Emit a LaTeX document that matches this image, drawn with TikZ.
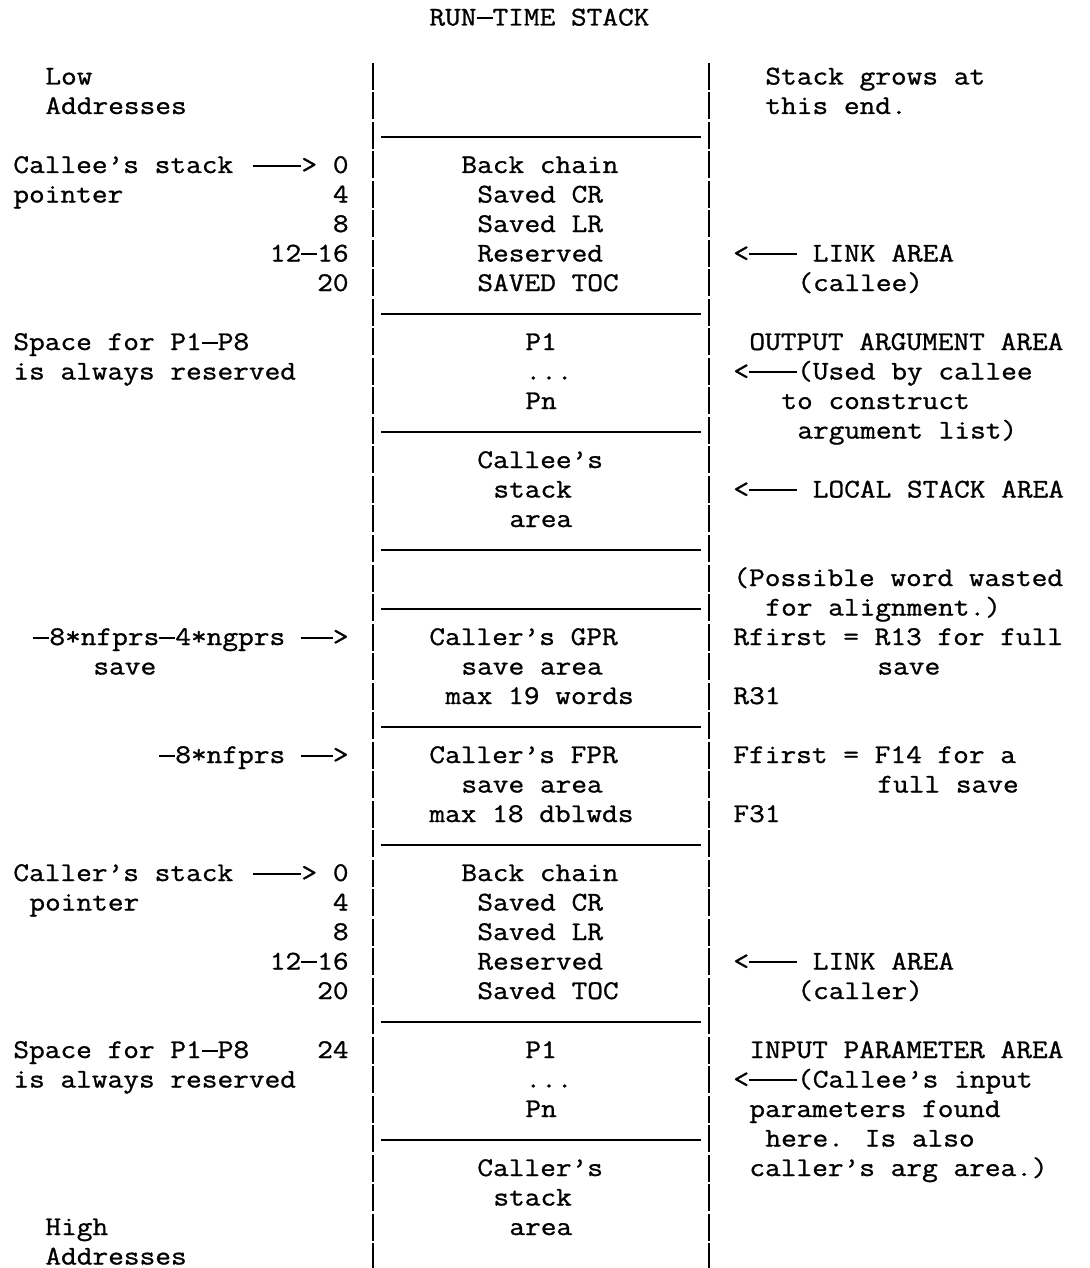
\documentclass[tikz,border=0pt]{standalone}
\usepackage{fontspec}
\newfontfamily\stackfont[FakeStretch=1.129,FakeBold=1.0]{Latin Modern Mono}
\newcommand\stackrule{\rule[3.2pt]{8pt}{0.9pt}}

\begin{document}
\begin{tikzpicture}[x=8pt,y=-14.75pt]

\tikzset{cell/.style={font=\stackfont\fontsize{13.5pt}{14pt}\selectfont,inner sep=0pt,anchor=base west},
num/.style={cell,anchor=base east},
wall/.style={line width=0.8pt,dash pattern=on 13.5pt off 1.25pt},
rule/.style={line width=1.1pt}}

% Page
\useasboundingbox (-0.8125,-0.8644) rectangle (67.25,42.1186);

% Title
\node[cell] (title) at (26,0) {RUN\stackrule TIME STACK};

% Stack walls
\coordinate (lwTop) at (22.5,1.271); \coordinate (lwBot) at (22.5,42.12);
\coordinate (rwTop) at (43.5,1.271); \coordinate (rwBot) at (43.5,42.12);
\draw[wall] (lwTop) -- (lwBot);
\draw[wall] (rwTop) -- (rwBot);

% Frame boundaries
\foreach \r [count=\i] in {4,10,14,18,20,24,28,34,38}
  {\coordinate (ruleL\i) at (23,\r-0.22); \coordinate (ruleR\i) at (43,\r-0.22);
   \draw[rule] (ruleL\i) -- (ruleR\i);}

% Left side: addresses and offsets
\node[cell] (lowA) at (2,2) {Low};
\node[cell] (lowB) at (2,3) {Addresses};
\node[cell] (calleeSP) at (0,5) {Callee’s stack};
\node[cell] (calleeArr) at (15,5) {\stackrule\stackrule\stackrule>};
\node[num] (calleeOff0) at (21,5) {0};
\node[cell] (calleeSPb) at (0,6) {pointer};
\node[num] (calleeOff4) at (21,6) {4};
\node[num] (calleeOff8) at (21,7) {8};
\node[num] (calleeOff12) at (21,8) {12\stackrule 16};
\node[num] (calleeOff20) at (21,9) {20};
\node[cell] (outSpaceA) at (0,11) {Space for P1\stackrule P8};
\node[cell] (outSpaceB) at (0,12) {is always reserved};
\node[num] (gprOff) at (21,21) {\stackrule 8*nfprs\stackrule 4*ngprs \stackrule\stackrule>};
\node[cell] (gprOffb) at (5,22) {save};
\node[num] (fprOff) at (21,25) {\stackrule 8*nfprs \stackrule\stackrule>};
\node[cell] (callerSP) at (0,29) {Caller’s stack};
\node[cell] (callerArr) at (15,29) {\stackrule\stackrule\stackrule>};
\node[num] (callerOff0) at (21,29) {0};
\node[cell] (callerSPb) at (1,30) {pointer};
\node[num] (callerOff4) at (21,30) {4};
\node[num] (callerOff8) at (21,31) {8};
\node[num] (callerOff12) at (21,32) {12\stackrule 16};
\node[num] (callerOff20) at (21,33) {20};
\node[cell] (inSpaceA) at (0,35) {Space for P1\stackrule P8};
\node[num] (callerOff24) at (21,35) {24};
\node[cell] (inSpaceB) at (0,36) {is always reserved};
\node[cell] (highA) at (2,41) {High};
\node[cell] (highB) at (2,42) {Addresses};

% Stack contents
\node[cell] (calleeBack) at (28,5) {Back chain};
\node[cell] (calleeCR) at (29,6) {Saved CR};
\node[cell] (calleeLR) at (29,7) {Saved LR};
\node[cell] (calleeRes) at (29,8) {Reserved};
\node[cell] (calleeTOC) at (29,9) {SAVED TOC};
\node[cell] (outP1) at (32,11) {P1};
\node[cell] (outDots) at (32,12) {...};
\node[cell] (outPn) at (32,13) {Pn};
\node[cell] (localA) at (29,15) {Callee’s};
\node[cell] (localB) at (30,16) {stack};
\node[cell] (localC) at (31,17) {area};
\node[cell] (gprA) at (26,21) {Caller’s GPR};
\node[cell] (gprB) at (28,22) {save area};
\node[cell] (gprC) at (27,23) {max 19 words};
\node[cell] (fprA) at (26,25) {Caller’s FPR};
\node[cell] (fprB) at (28,26) {save area};
\node[cell] (fprC) at (26,27) {max 18 dblwds};
\node[cell] (callerBack) at (28,29) {Back chain};
\node[cell] (callerCR) at (29,30) {Saved CR};
\node[cell] (callerLR) at (29,31) {Saved LR};
\node[cell] (callerRes) at (29,32) {Reserved};
\node[cell] (callerTOC) at (29,33) {Saved TOC};
\node[cell] (inP1) at (32,35) {P1};
\node[cell] (inDots) at (32,36) {...};
\node[cell] (inPn) at (32,37) {Pn};
\node[cell] (callerA) at (29,39) {Caller’s};
\node[cell] (callerB) at (30,40) {stack};
\node[cell] (callerC) at (31,41) {area};

% Right side: area notes
\node[cell] (growA) at (47,2) {Stack grows at};
\node[cell] (growB) at (47,3) {this end.};
\node[cell] (linkA) at (45,8) {<\stackrule\stackrule\stackrule{} LINK AREA};
\node[cell] (linkB) at (49,9) {(callee)};
\node[cell] (outA) at (46,11) {OUTPUT ARGUMENT AREA};
\node[cell] (outB) at (45,12) {<\stackrule\stackrule\stackrule(Used by callee};
\node[cell] (outC) at (48,13) {to construct};
\node[cell] (outD) at (49,14) {argument list)};
\node[cell] (localNote) at (45,16) {<\stackrule\stackrule\stackrule{} LOCAL STACK AREA};
\node[cell] (padA) at (45,19) {(Possible word wasted};
\node[cell] (padB) at (47,20) {for alignment.)};
\node[cell] (gprNoteA) at (45,21) {Rfirst = R13 for full};
\node[cell] (gprNoteB) at (54,22) {save};
\node[cell] (gprNoteC) at (45,23) {R31};
\node[cell] (fprNoteA) at (45,25) {Ffirst = F14 for a};
\node[cell] (fprNoteB) at (54,26) {full save};
\node[cell] (fprNoteC) at (45,27) {F31};
\node[cell] (linkC) at (45,32) {<\stackrule\stackrule\stackrule{} LINK AREA};
\node[cell] (linkD) at (49,33) {(caller)};
\node[cell] (inA) at (46,35) {INPUT PARAMETER AREA};
\node[cell] (inB) at (45,36) {<\stackrule\stackrule\stackrule(Callee’s input};
\node[cell] (inC) at (46,37) {parameters found};
\node[cell] (inD) at (47,38) {here. Is also};
\node[cell] (inE) at (46,39) {caller’s arg area.)};

\end{tikzpicture}
\end{document}
